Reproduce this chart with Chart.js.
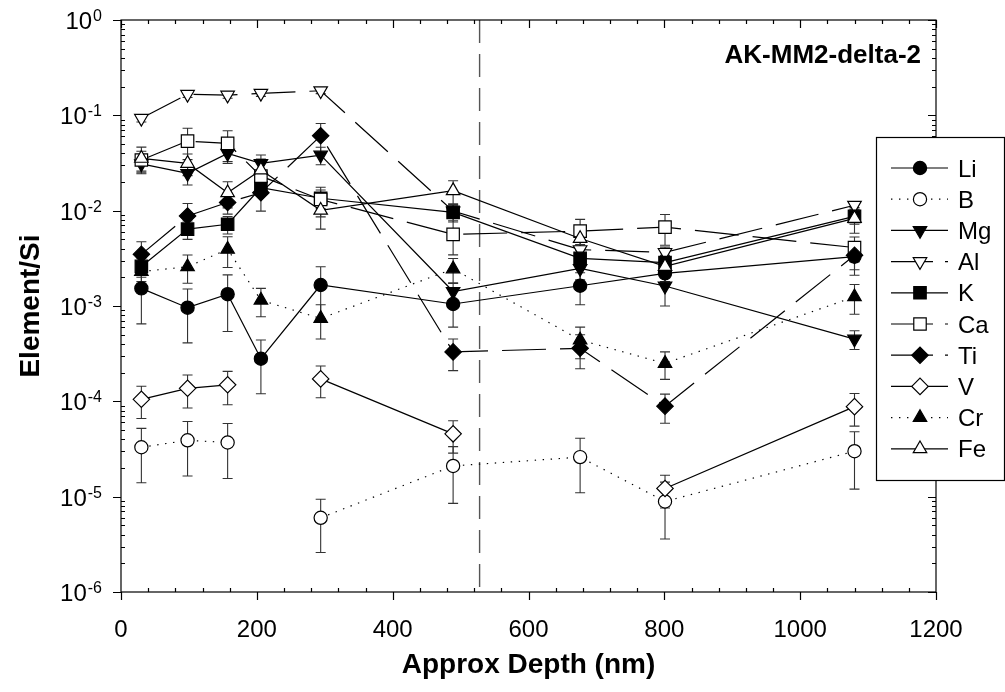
<!DOCTYPE html>
<html>
<head>
<meta charset="utf-8">
<script src="https://cdn.jsdelivr.net/npm/chart.js@4"></script>
<style>
html, body { margin: 0; padding: 0; background: #fff; overflow: hidden; }
canvas { display: block; }
</style>
</head>
<body>
<canvas id="c" width="1005" height="692"></canvas>
<script>
// Sampling depths (nm)
const depth = [30, 98, 157, 206, 294, 489, 676, 801, 1080];

// Element/Si ratios and their one-sigma errors
const Li    = [1.53e-3, 9.6e-4, 1.33e-3, 2.8e-4, 1.66e-3, 1.05e-3, 1.63e-3, 2.2e-3, 3.3e-3];
const LiErr = [8.8e-4, 5.5e-4, 7.9e-4, 1.6e-4, 9.2e-4, 4.5e-4, 6e-4, 5e-4, 1.2e-3];

const B    = [3.3e-5, 3.9e-5, 3.7e-5, null, 6.0e-6, 2.1e-5, 2.6e-5, 8.9e-6, 3.0e-5];
const BErr = [1.9e-5, 2.25e-5, 2.15e-5, null, 3.4e-6, 1.25e-5, 1.5e-5, 5.3e-6, 1.8e-5];

const Mg    = [0.031, 0.0246, 0.0399, 0.0313, 0.0383, 1.42e-3, 2.48e-3, 1.62e-3, 4.5e-4];
const MgErr = [6e-3, 6e-3, 8.6e-3, 7e-3, 8e-3, 3e-4, 6e-4, 6.2e-4, 1e-4];

const Al    = [0.093, 0.166, 0.163, 0.170, 0.181, 9.9e-3, 3.9e-3, 3.65e-3, 0.0114];
const AlErr = [8e-3, 0.012, 0.012, 0.012, 0.012, 1.5e-3, 5e-4, 5e-4, 1e-3];

const K    = [2.6e-3, 6.4e-3, 7.2e-3, 0.0174, 0.0135, 9.6e-3, 3.16e-3, 2.85e-3, 8.7e-3];
const KErr = [6e-4, 1.4e-3, 1.5e-3, 3e-3, 3e-3, 2e-3, 7e-4, 5e-4, 1.5e-3];

const Ca    = [0.034, 0.0537, 0.0508, 0.023, 0.0131, 5.64e-3, 6.1e-3, 6.73e-3, 4.1e-3];
const CaErr = [8e-3, 0.0194, 0.018, 8e-3, 4.5e-3, 2.2e-3, 2e-3, 2.4e-3, 1.2e-3];

const Ti    = [3.48e-3, 8.8e-3, 0.0122, 0.0154, 0.061, 3.3e-4, 3.6e-4, 8.9e-5, 3.4e-3];
const TiErr = [1.24e-3, 3.1e-3, 3e-3, 5.5e-3, 0.021, 1.2e-4, 1.4e-4, 3e-5, 1e-3];

const V    = [1.05e-4, 1.37e-4, 1.49e-4, null, 1.72e-4, 4.56e-5, null, 1.22e-5, 8.8e-5];
const VErr = [3.9e-5, 5.2e-5, 5.7e-5, null, 6.3e-5, 1.7e-5, null, 4.6e-6, 3.3e-5];

const Cr    = [2.3e-3, 2.58e-3, 3.93e-3, 1.15e-3, 7.4e-4, 2.45e-3, 4.4e-4, 2.5e-4, 1.25e-3];
const CrErr = [5e-4, 8.5e-4, 1.4e-3, 3.8e-4, 2.9e-4, 7e-4, 1.6e-4, 8e-5, 4.3e-4];

const Fe    = [0.0354, 0.0313, 0.0154, 0.0267, 0.0101, 0.0162, 5.1e-3, 2.6e-3, 8.3e-3];
const FeErr = [0.011, 0.008, 4.7e-3, 8e-3, 3.7e-3, 4.4e-3, 1.5e-3, 8e-4, 2.5e-3];

// Interface depth marked by the vertical dashed line
const interfaceDepth = 528;

// Axis ticks and labels
const xTicks = [0, 200, 400, 600, 800, 1000, 1200];
const xTickLabels = ['0', '200', '400', '600', '800', '1000', '1200'];
const yExponents = [0, -1, -2, -3, -4, -5, -6];
const yTickLabels = ['0', '-1', '-2', '-3', '-4', '-5', '-6'];

const sampleName = 'AK-MM2-delta-2';
const xTitle = 'Approx Depth (nm)';
const yTitle = 'Element/Si';

const FONT = '"Liberation Sans", Arial, Helvetica, sans-serif';
const DASH = [44, 14];
const DOT = [1.4, 6.6];

const series = [
  { label: 'Li', vals: Li, errs: LiErr, style: 'circle',   fill: '#000', dash: [] },
  { label: 'B',  vals: B,  errs: BErr,  style: 'circle',   fill: '#fff', dash: DOT },
  { label: 'Mg', vals: Mg, errs: MgErr, style: 'triangle', rot: 180, fill: '#000', dash: [] },
  { label: 'Al', vals: Al, errs: AlErr, style: 'triangle', rot: 180, fill: '#fff', dash: DASH },
  { label: 'K',  vals: K,  errs: KErr,  style: 'rect',     fill: '#000', dash: [] },
  { label: 'Ca', vals: Ca, errs: CaErr, style: 'rect',     fill: '#fff', dash: DASH },
  { label: 'Ti', vals: Ti, errs: TiErr, style: 'rectRot',  fill: '#000', dash: DASH },
  { label: 'V',  vals: V,  errs: VErr,  style: 'rectRot',  fill: '#fff', dash: [] },
  { label: 'Cr', vals: Cr, errs: CrErr, style: 'triangle', fill: '#000', dash: DOT },
  { label: 'Fe', vals: Fe, errs: FeErr, style: 'triangle', fill: '#fff', dash: [] }
];

const radiusFor = { circle: 6.6, rect: 8.8, triangle: 7.8, rectRot: 8.2 };

const datasets = series.map((s, i) => ({
  label: s.label,
  data: depth.map((d, j) => ({ x: d, y: s.vals[j] })),
  errors: s.errs,
  borderColor: '#000',
  borderWidth: 1.2,
  borderDash: s.dash,
  borderCapStyle: 'butt',
  pointStyle: s.style,
  rotation: s.rot || 0,
  pointRotation: s.rot || 0,
  pointRadius: radiusFor[s.style],
  pointHoverRadius: radiusFor[s.style],
  pointBackgroundColor: s.fill,
  pointBorderColor: '#000',
  pointBorderWidth: 1.2,
  fill: false,
  tension: 0,
  spanGaps: false,
  order: series.length - i
}));

// Vertical error bars, drawn beneath the series
const errorBars = {
  id: 'errorBars',
  beforeDatasetsDraw(chart) {
    const { ctx, chartArea: a, scales: { x, y } } = chart;
    ctx.save();
    ctx.beginPath();
    ctx.rect(a.left, a.top, a.right - a.left, a.bottom - a.top);
    ctx.clip();
    ctx.strokeStyle = '#333';
    ctx.lineWidth = 1.1;
    ctx.setLineDash([]);
    chart.data.datasets.forEach(ds => {
      ds.data.forEach((p, j) => {
        const e = ds.errors[j];
        if (p.y == null || e == null) return;
        const px = x.getPixelForValue(p.x);
        const hi = y.getPixelForValue(p.y + e);
        const lo = p.y - e > 0 ? y.getPixelForValue(p.y - e) : a.bottom + 10;
        ctx.beginPath();
        ctx.moveTo(px, hi); ctx.lineTo(px, lo);
        ctx.moveTo(px - 5, hi); ctx.lineTo(px + 5, hi);
        ctx.moveTo(px - 5, lo); ctx.lineTo(px + 5, lo);
        ctx.stroke();
      });
    });
    ctx.restore();
  }
};

// Interface line, frame, ticks, labels, titles and legend
const decorations = {
  id: 'decorations',
  beforeDatasetsDraw(chart) {
    const { ctx, chartArea: a, scales: { x } } = chart;
    const px = x.getPixelForValue(interfaceDepth);
    ctx.save();
    ctx.strokeStyle = '#555';
    ctx.lineWidth = 1.4;
    ctx.setLineDash([23, 11]);
    ctx.beginPath();
    ctx.moveTo(px, a.top);
    ctx.lineTo(px, a.bottom);
    ctx.stroke();
    ctx.restore();
  },
  afterDraw(chart) {
    const { ctx, chartArea: a, scales: { x, y } } = chart;
    ctx.save();
    ctx.setLineDash([]);
    ctx.strokeStyle = '#000';
    ctx.lineWidth = 1.2;
    ctx.strokeRect(a.left, a.top, a.right - a.left, a.bottom - a.top);

    // x ticks every 40 nm, major every 200 nm
    ctx.beginPath();
    for (let v = 0; v <= 1200; v += 40) {
      const px = Math.round(x.getPixelForValue(v)) + 0.5;
      const major = v % 200 === 0;
      if (major) {
        ctx.moveTo(px, a.bottom); ctx.lineTo(px, a.bottom + 8);
        ctx.moveTo(px, a.top); ctx.lineTo(px, a.top + 8);
      } else {
        ctx.moveTo(px, a.bottom); ctx.lineTo(px, a.bottom - 4);
        ctx.moveTo(px, a.top); ctx.lineTo(px, a.top + 4);
      }
    }
    // y ticks: decades and log minors
    yExponents.forEach(e => {
      const py = Math.round(y.getPixelForValue(Math.pow(10, e))) + 0.5;
      ctx.moveTo(a.left - 8, py); ctx.lineTo(a.left, py);
      ctx.moveTo(a.right, py); ctx.lineTo(a.right - 8, py);
      if (e < 0) {
        for (let k = 2; k <= 9; k++) {
          const pm = Math.round(y.getPixelForValue(k * Math.pow(10, e))) + 0.5;
          ctx.moveTo(a.left, pm); ctx.lineTo(a.left + 4, pm);
          ctx.moveTo(a.right, pm); ctx.lineTo(a.right - 4, pm);
        }
      }
    });
    ctx.stroke();

    // tick labels
    ctx.fillStyle = '#000';
    ctx.font = '24px ' + FONT;
    ctx.textAlign = 'center';
    ctx.textBaseline = 'alphabetic';
    xTicks.forEach((v, i) => {
      ctx.fillText(xTickLabels[i], x.getPixelForValue(v), 637);
    });
    yExponents.forEach((e, i) => {
      const py = y.getPixelForValue(Math.pow(10, e));
      ctx.font = '16px ' + FONT;
      const sup = yTickLabels[i];
      const ws = ctx.measureText(sup).width;
      ctx.textAlign = 'left';
      const sx = 102 - ws;
      ctx.fillText(sup, sx, py + 1);
      ctx.font = '24px ' + FONT;
      const wb = ctx.measureText('10').width;
      ctx.fillText('10', sx - wb - 1, py + 9);
    });

    // axis titles
    ctx.font = 'bold 28px ' + FONT;
    ctx.textAlign = 'center';
    ctx.textBaseline = 'middle';
    ctx.fillText(xTitle, (a.left + a.right) / 2, 665);
    ctx.save();
    ctx.translate(31, (a.top + a.bottom) / 2);
    ctx.rotate(-Math.PI / 2);
    ctx.fillText(yTitle, 0, 0);
    ctx.restore();

    // sample name
    ctx.font = 'bold 26px ' + FONT;
    ctx.textAlign = 'right';
    ctx.textBaseline = 'alphabetic';
    ctx.fillText(sampleName, 921, 63);

    // legend
    const lx = 876, ly = 137, lw = 128, lh = 343;
    ctx.fillStyle = '#fff';
    ctx.fillRect(lx, ly, lw, lh);
    ctx.strokeStyle = '#000';
    ctx.lineWidth = 1.2;
    ctx.strokeRect(lx + 0.5, ly + 0.5, lw, lh);
    chart.data.datasets.forEach((ds, i) => {
      const ry = 168 + i * 31.2;
      ctx.strokeStyle = '#000';
      ctx.lineWidth = 1.2;
      ctx.setLineDash(ds.borderDash.length ? (ds.borderDash === DOT ? DOT : [42, 12]) : []);
      ctx.beginPath();
      ctx.moveTo(891, ry); ctx.lineTo(948, ry);
      ctx.stroke();
      ctx.setLineDash([]);
      ctx.fillStyle = ds.pointBackgroundColor;
      ctx.strokeStyle = '#000';
      ctx.lineWidth = 1.2;
      Chart.helpers.drawPoint(ctx, {
        pointStyle: ds.pointStyle,
        radius: ds.pointRadius,
        rotation: ds.pointRotation,
        borderWidth: 1.2
      }, 920, ry);
      ctx.fillStyle = '#000';
      ctx.font = '24px ' + FONT;
      ctx.textAlign = 'left';
      ctx.textBaseline = 'alphabetic';
      ctx.fillText(ds.label, 958, ry + 8.6);
    });
    ctx.restore();
  }
};

new Chart(document.getElementById('c'), {
  type: 'line',
  data: { datasets },
  options: {
    responsive: false,
    animation: false,
    devicePixelRatio: 1,
    layout: { padding: { left: 121, right: 69, top: 20, bottom: 100 } },
    plugins: { legend: { display: false }, tooltip: { enabled: false } },
    scales: {
      x: { type: 'linear', min: 0, max: 1200, display: false },
      y: { type: 'logarithmic', min: 1e-6, max: 1, display: false }
    }
  },
  plugins: [errorBars, decorations]
});
</script>
</body>
</html>
